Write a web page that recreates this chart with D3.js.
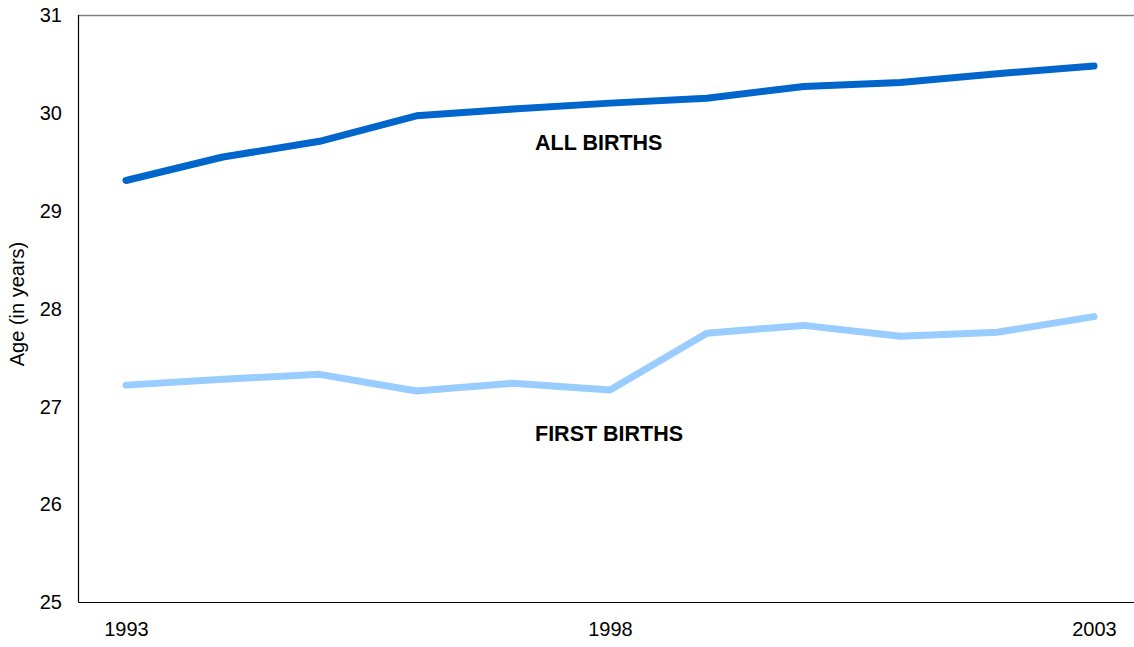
<!DOCTYPE html>
<html>
<head>
<meta charset="utf-8">
<script src="https://cdn.jsdelivr.net/npm/d3@7"></script>
<style>
  html, body { margin: 0; padding: 0; background: #fff; }
  svg { display: block; font-family: "Liberation Sans", Arial, sans-serif; }
</style>
</head>
<body>
<svg id="chart" width="1134" height="647"></svg>
<script>
const years = [1993, 1994, 1995, 1996, 1997, 1998, 1999, 2000, 2001, 2002, 2003];
const allBirths = [29.31, 29.55, 29.71, 29.97, 30.04, 30.10, 30.15, 30.27, 30.31, 30.40, 30.48];
const firstBirths = [27.22, 27.28, 27.33, 27.16, 27.24, 27.17, 27.75, 27.83, 27.72, 27.76, 27.92];
const yTicks = [25, 26, 27, 28, 29, 30, 31];
const xTickLabels = [1993, 1998, 2003];
const seriesNames = ["ALL BIRTHS", "FIRST BIRTHS"];
const yTitle = "Age (in years)";

(function () {
const svg = d3.select("#chart");
const pLeft = 78.5, pRight = 1134, pTop = 15, pBottom = 602.5;

const x = d3.scaleLinear().domain([1993, 2003]).range([126, 1094]);
const y = d3.scaleLinear().domain([25, 31]).range([pBottom, pTop]);

// frame
svg.append("line").attr("x1", pLeft).attr("x2", pRight).attr("y1", pTop + 0.5).attr("y2", pTop + 0.5)
  .attr("stroke", "#808080").attr("stroke-width", 1.5);
svg.append("line").attr("x1", pLeft).attr("x2", pLeft).attr("y1", pTop).attr("y2", pBottom)
  .attr("stroke", "#000").attr("stroke-width", 1.2);
svg.append("line").attr("x1", pLeft).attr("x2", pRight).attr("y1", pBottom).attr("y2", pBottom)
  .attr("stroke", "#000").attr("stroke-width", 1.2);

// y axis labels
const yAxis = d3.axisLeft(y).tickValues(yTicks).tickSize(0).tickPadding(0).tickFormat(d3.format("d"));
const gy = svg.append("g").attr("transform", "translate(62,0)").call(yAxis);
gy.select(".domain").remove();
gy.selectAll("text").attr("font-size", 20).attr("fill", "#000")
  .attr("font-family", "Liberation Sans, Arial, sans-serif");

// x axis labels
const xAxis = d3.axisBottom(x).tickValues(xTickLabels).tickSize(0).tickPadding(0).tickFormat(d3.format("d"));
const gx = svg.append("g").attr("transform", "translate(0,622)").call(xAxis);
gx.select(".domain").remove();
gx.selectAll("text").attr("font-size", 20).attr("fill", "#000")
  .attr("font-family", "Liberation Sans, Arial, sans-serif");

// y title
svg.append("text")
  .attr("transform", "translate(24,304) rotate(-90)")
  .attr("text-anchor", "middle")
  .attr("font-size", 20)
  .attr("fill", "#000")
  .text(yTitle);

const line = d3.line().x((d, i) => x(years[i])).y(d => y(d));

svg.append("path").datum(firstBirths).attr("d", line)
  .attr("fill", "none").attr("stroke", "#99CCFF").attr("stroke-width", 7)
  .attr("stroke-linecap", "round").attr("stroke-linejoin", "round");
svg.append("path").datum(allBirths).attr("d", line)
  .attr("fill", "none").attr("stroke", "#0066CC").attr("stroke-width", 7)
  .attr("stroke-linecap", "round").attr("stroke-linejoin", "round");

// series labels
svg.append("text").attr("x", 535).attr("y", 150).attr("font-size", 21.5).attr("font-weight", "bold")
  .attr("fill", "#000").text(seriesNames[0]);
svg.append("text").attr("x", 535).attr("y", 441).attr("font-size", 21.5).attr("font-weight", "bold")
  .attr("fill", "#000").text(seriesNames[1]);
})();
</script>
</body>
</html>
